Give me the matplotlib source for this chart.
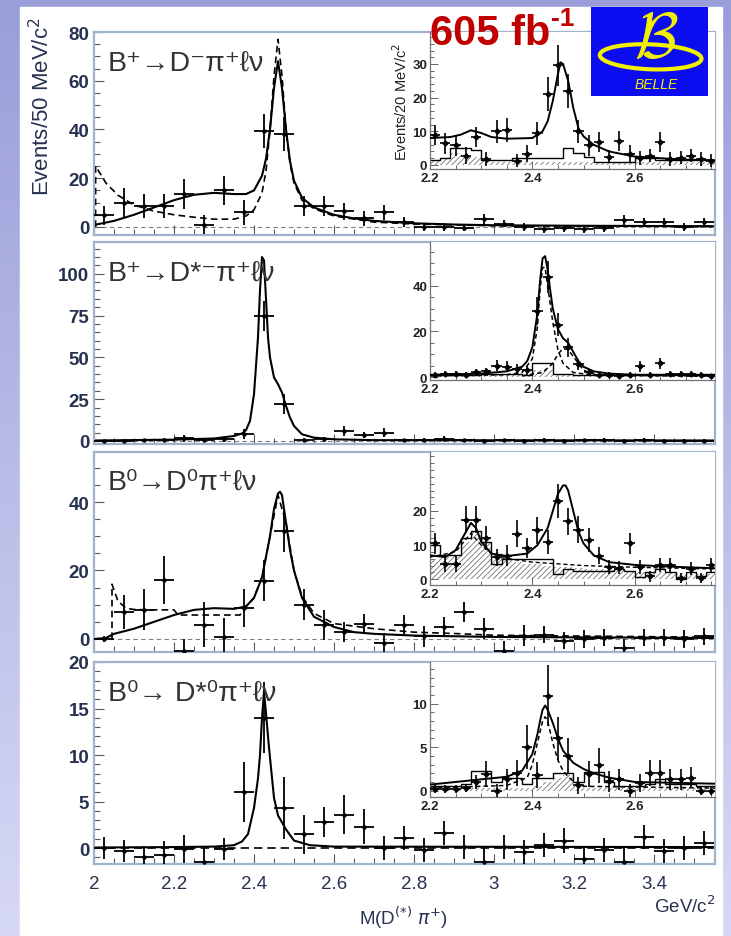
import matplotlib
matplotlib.use("Agg")
import matplotlib.pyplot as plt
import numpy as np
from matplotlib.patches import Ellipse, Rectangle
from matplotlib.ticker import MultipleLocator, FixedLocator, FuncFormatter

plt.rcParams["font.family"] = ["Liberation Sans Narrow", "Liberation Sans", "DejaVu Sans"]
plt.rcParams["mathtext.fontset"] = "custom"
plt.rcParams["mathtext.rm"] = "Liberation Sans Narrow"
plt.rcParams["mathtext.it"] = "Liberation Sans Narrow:italic"
plt.rcParams["mathtext.bf"] = "Liberation Sans Narrow:bold"
plt.rcParams["hatch.linewidth"] = 0.6

# ---------------- data ----------------
# main panels: 50 MeV/c^2 bins
MASS = [2.025, 2.075, 2.125, 2.175, 2.225, 2.275, 2.325, 2.375, 2.425, 2.475,
        2.525, 2.575, 2.625, 2.675, 2.725, 2.775, 2.825, 2.875, 2.925, 2.975,
        3.025, 3.075, 3.125, 3.175, 3.225, 3.275, 3.325, 3.375, 3.425, 3.475, 3.525]

# B+ -> D- pi+ l nu
p1_vals = [4.8, 10, 8.5, 8.5, 13.5, 1, 15, 6, 39.5, 38,
           8.5, 8.5, 6.5, 3.5, 6, 2, 0, 0, -0.3, 3.3,
           1.4, 0, -1, -0.5, -1, -0.5, 3, 2, 2, 0, 2]
p1_errs = [4, 6, 5, 5, 6, 4, 6, 5, 7, 7, 4, 4, 3.5, 3, 3, 2, 1.5, 1.5, 1.5, 2,
           1.5, 1.5, 1.5, 1.5, 1.5, 1.5, 2, 1.5, 1.5, 1.5, 1.5]
p1_fit_x = [2.00, 2.05, 2.10, 2.15, 2.20, 2.25, 2.30, 2.35, 2.38, 2.40, 2.42, 2.43, 2.44,
            2.45, 2.46, 2.47, 2.48, 2.49, 2.50, 2.52, 2.55, 2.60, 2.65, 2.70, 2.80,
            2.90, 3.00, 3.20, 3.55]
p1_fit_y = [0.8, 2.5, 5, 8, 11, 13.2, 14, 13.5, 13.5, 15, 21, 28, 40,
            57, 68, 57, 40, 27, 19, 12, 8, 5, 3.5, 2.5, 1.5,
            1, 0.7, 0.5, 0.3]
p1_bkg_x = [2.004, 2.004, 2.03, 2.06, 2.10, 2.15, 2.20, 2.25, 2.30, 2.35, 2.38, 2.40,
            2.42, 2.43, 2.44, 2.45, 2.46, 2.47, 2.48, 2.49, 2.50, 2.52, 2.55, 2.60,
            2.70, 2.80, 3.00, 3.55]
p1_bkg_y = [0, 25, 18, 13, 9, 6.5, 5, 4, 3.2, 3.2, 4.5, 7,
            14, 23, 40, 62, 77, 62, 40, 26, 18, 11, 7.5, 4.5,
            2, 1.2, 0.5, 0.2]

# B+ -> D*- pi+ l nu
p2_vals = [0, 0, 0.3, 0.5, 1.5, 0.5, 1, 4, 75, 22,
           0.5, 1, 6, 3.5, 5, 0.3, 0.5, 1.2, 0.3, 0,
           0.3, 0, 0.5, 0, 0.3, 0.5, 0.2, 0.5, 0.2, 0, 0.2]
p2_errs = [0.8, 0.8, 1, 1, 2, 1, 1.5, 3, 9, 6, 1, 1.5, 3, 2, 2.5, 1, 1, 1.5, 1, 1,
           1, 1, 1, 1, 1, 1, 1, 1, 1, 1, 1]
p2_fit_x = [2.00, 2.20, 2.30, 2.35, 2.37, 2.38, 2.39, 2.40, 2.41, 2.415, 2.42, 2.425,
            2.43, 2.435, 2.44, 2.45, 2.46, 2.47, 2.48, 2.49, 2.50, 2.52, 2.55, 2.60,
            2.70, 3.55]
p2_fit_y = [0.3, 0.8, 1.5, 3, 4.5, 6.5, 12, 28, 62, 90, 110, 108,
            85, 62, 50, 38, 34, 29, 21, 14, 9, 4, 2, 1,
            0.5, 0.3]

# B0 -> D0 pi+ l nu
p3_vals = [0, 7.8, 8.5, 17.3, -3.6, 4.2, 0.6, 9, 17, 31.5,
           10, 4.2, 2, 4.4, -1.2, 4, 0.8, 3.5, 7.9, 3,
           -3.6, 1, 1.2, -0.5, 0, 0.4, -2.6, 0.4, 0.4, 0, 0.8]
p3_errs = [1, 5, 6, 7, 3.6, 6.5, 5.5, 5.5, 6, 6, 4.6, 4.4, 3, 3, 3, 3, 3, 3, 3, 3,
           3, 3, 2.5, 2.5, 2.5, 2.5, 2.5, 2.5, 2.5, 2.5, 2.5]
p3_fit_x = [2.00, 2.03, 2.05, 2.10, 2.15, 2.20, 2.25, 2.30, 2.35, 2.38, 2.40, 2.42,
            2.44, 2.45, 2.46, 2.465, 2.47, 2.48, 2.49, 2.50, 2.52, 2.55, 2.60, 2.65,
            2.70, 2.80, 3.00, 3.55]
p3_fit_y = [0, 0.3, 1.5, 3, 5, 7, 8.5, 9, 8.8, 9.5, 12, 18,
            30, 38, 42.5, 43, 42, 34, 26, 20, 12, 6.5, 3.5, 2,
            1.5, 1, 0.6, 0.3]
p3_bkg_x = [2.045, 2.045, 2.06, 2.08, 2.10, 2.15, 2.20, 2.21, 2.25, 2.30, 2.365, 2.38,
            2.40, 2.42, 2.44, 2.46, 2.48, 2.50, 2.52, 2.55, 2.60, 2.70, 2.80, 2.90,
            3.00, 3.55]
p3_bkg_y = [0, 16, 11, 9, 8.6, 8.5, 8.5, 7, 7, 7, 7, 9.5,
            12, 18, 30, 42, 34, 20, 12.5, 7.5, 4.5, 3, 2, 1.6,
            1.1, 0.5]

# B0 -> D*0 pi+ l nu
p4_vals = [0, -0.3, -1, -0.7, -0.1, -1.55, -0.1, 6, 14, 4.3,
           1.5, 2.8, 3.6, 2.3, 0, 1.1, -0.2, 1.6, 0.1, -1.55,
           0.1, -0.4, 0.3, 0.8, -1.2, -0.2, -1.55, 1.2, -0.3, 0, 0.5]
p4_errs = [1.2, 1.2, 1.2, 1.5, 1.5, 1.5, 1.2, 3.2, 3.8, 3.3, 2.1, 1.6, 2.1, 1.9, 1.3,
           1.3, 1.3, 1.3, 1.3, 1.5, 1.3, 1.3, 1.3, 1.3, 1.3, 1.3, 1.5, 1.3, 1.3, 1.3, 1.3]
p4_fit_x = [2.00, 2.20, 2.30, 2.35, 2.37, 2.385, 2.40, 2.41, 2.415, 2.42, 2.425, 2.43,
            2.435, 2.44, 2.45, 2.46, 2.48, 2.50, 2.54, 2.60, 3.55]
p4_fit_y = [0.05, 0.1, 0.15, 0.3, 0.7, 1.5, 4.3, 7.5, 10, 14, 16.8, 14.5,
            12, 9.7, 5.4, 3.5, 2, 0.8, 0.3, 0.15, 0.1]

# insets: 20 MeV/c^2 bins
MASS_IN = [2.21, 2.23, 2.25, 2.27, 2.29, 2.31, 2.33, 2.35, 2.37, 2.39,
           2.41, 2.43, 2.45, 2.47, 2.49, 2.51, 2.53, 2.55, 2.57, 2.59,
           2.61, 2.63, 2.65, 2.67, 2.69, 2.71, 2.73, 2.75]

i1_vals = [9, 6.4, 5.8, 2.8, 8.4, 1.8, 10, 10.4, 1.3, 3.3,
           9.4, 21, 29.6, 22, 10, 5.8, 6.9, 2.5, 7, 3.3,
           2, 2.8, 6.9, 1.8, 2.2, 2.8, 1.8, 1.3]
i1_errs = [3, 3, 3, 2.5, 3, 2, 3.5, 3.5, 2, 2.5, 3.5, 5, 6, 5, 3.5, 3, 3, 2, 3, 2.5,
           2, 2, 3, 2, 2, 2, 2, 2]
i1_hist = [1.5, 2, 5, 5, 4.5, 1.5, 1.5, 1.5, 2, 2, 2, 2, 2, 5, 3.5, 2.5, 1, 1, 1, 1,
           2, 2, 1.5, 1.5, 1.5, 1.5, 1.5, 1.5]
i1_hatch = [1.5, 2, 3.5, 3, 2.5, 1.5, 1, 1, 1, 1, 1, 1, 1, 1, 1, 1, 0.8, 0.8, 0.8, 0.8,
            0.8, 0.8, 0.8, 0.8, 0.8, 0.8, 0.8, 0.8]
i1_fit_x = [2.20, 2.24, 2.26, 2.28, 2.30, 2.32, 2.35, 2.40, 2.42, 2.43, 2.44, 2.45,
            2.455, 2.46, 2.47, 2.48, 2.49, 2.50, 2.52, 2.55, 2.60, 2.65, 2.70, 2.757]
i1_fit_y = [8, 8.3, 9, 10.3, 9.5, 8.3, 7.8, 8, 10, 13, 19, 27,
            30.5, 30, 25, 17, 11, 8.5, 6, 4, 2.5, 2, 1.6, 1.4]

i2_vals = [1, 1.5, 1.5, 1, 2, 2.5, 5, 4.5, 3.5, 3,
           29, 44, 23, 13, 5.5, 2, 1, 1, 0.5, 1,
           4.7, 1, 6, 1.5, 1.5, 1.5, 1, 0.5]
i2_errs = [1, 1.2, 1.2, 1, 1.5, 1.5, 2.5, 2.5, 2, 2, 6, 7, 5, 4, 2.5, 1.5, 1, 1, 1, 1,
           2.5, 1, 2.5, 1, 1, 1, 1, 1]
i2_hist = [1, 1, 1, 1, 1, 1.5, 1.5, 1.5, 1.5, 1, 6, 6, 1.5, 1.5, 1, 1, 1, 1, 0.8, 0.8,
           0.8, 0.8, 0.8, 0.8, 0.8, 0.8, 0.8, 0.8]
i2_hatch = [0.5, 0.5, 0.5, 0.5, 0.5, 0.8, 0.8, 0.8, 0.8, 0.8, 3, 3, 0.8, 0.8, 0.5, 0.5,
            0.5, 0.5, 0.3, 0.3, 0.3, 0.3, 0.3, 0.3, 0.3, 0.3, 0.3, 0.3]
i2_fit_x = [2.20, 2.30, 2.35, 2.38, 2.39, 2.40, 2.41, 2.415, 2.42, 2.425, 2.43, 2.435,
            2.44, 2.45, 2.46, 2.47, 2.48, 2.49, 2.50, 2.52, 2.55, 2.60, 2.757]
i2_fit_y = [1, 1.5, 2.5, 4.5, 7, 13, 28, 42, 52, 53, 47, 38,
            30, 21, 17, 15, 11, 7, 4.5, 2.5, 1.5, 1, 1]
i2_pk1_x = [2.20, 2.35, 2.38, 2.40, 2.41, 2.415, 2.42, 2.425, 2.43, 2.44, 2.45, 2.46,
            2.48, 2.52, 2.757]
i2_pk1_y = [0.5, 1, 2, 8, 22, 38, 48, 48, 40, 24, 12, 6, 2, 0.8, 0.3]
i2_pk2_x = [2.38, 2.42, 2.44, 2.45, 2.46, 2.47, 2.48, 2.50, 2.53]
i2_pk2_y = [0.5, 2, 6, 10, 12.5, 12, 9, 3, 0.5]

i3_vals = [10.5, 4.5, 4.5, 17.5, 17.5, 12, 6.4, 6.9, 13.3, 9.2,
           14.3, 11, 23, 17, 14.5, 11.5, 6.9, 3.6, 3.4, 10.5,
           3.6, 0.8, 4.1, 4.1, 0.4, 3.1, 0.4, 4.1]
i3_errs = [3, 2.5, 2.5, 4, 4, 3.5, 2.5, 3, 4, 3, 4, 3.5, 5, 4, 4, 3.5, 2.5, 2, 2, 3,
           2, 1.5, 2, 2, 1.5, 2, 1.5, 2]
i3_hist = [10, 7, 7, 12, 14, 11, 4.5, 6, 6, 6, 6, 6, 1.5, 3, 2.5, 2.5, 2.5, 2.5, 3, 2.5,
           0.5, 2, 3, 2, 0, 2, 1, 2]
i3_hatch = [6, 6.5, 7, 11, 14, 12, 8, 6, 5, 4.5, 4.5, 4, 3.5, 3.5, 3.2, 3, 3, 2.8, 2.6,
            2.4, 2.2, 2, 2, 1.8, 1.8, 1.6, 1.6, 1.5]
i3_fit_x = [2.20, 2.23, 2.25, 2.265, 2.28, 2.29, 2.30, 2.32, 2.35, 2.39, 2.41, 2.43,
            2.44, 2.45, 2.46, 2.465, 2.47, 2.48, 2.49, 2.50, 2.52, 2.55, 2.60, 2.65, 2.757]
i3_fit_y = [7, 6.5, 8.5, 12.5, 16.5, 15, 11, 7.5, 6.8, 7.5, 10, 15,
            20, 25, 27.5, 27.5, 26, 20, 14, 10.5, 7, 5, 4.2, 3.8, 3.2]
i3_bkg_x = [2.20, 2.25, 2.28, 2.30, 2.33, 2.40, 2.50, 2.60, 2.757]
i3_bkg_y = [6.5, 8, 13.5, 10, 6.5, 5, 4, 3.5, 3]

i4_vals = [0.2, 0.2, 0.2, 0.3, 1, 1.9, 0, 1.3, 2, 5,
           1.8, 10.9, 6, 4, 0.6, 1.9, 2.9, 1.1, 1.3, 0,
           0.9, 2, 2, 1.3, 1.3, 1.5, 0, 0]
i4_errs = [0.5, 0.5, 0.5, 0.5, 0.8, 1.5, 0.8, 1.2, 1.5, 2.5, 1.5, 3.5, 2.5, 2, 1, 1.5,
           2, 1.2, 1.2, 0.8, 1, 1.5, 1.5, 1.2, 1.2, 1.2, 0.5, 0.5]
i4_hist = [0.5, 0.5, 0.5, 0.8, 2.3, 2.3, 1, 1.5, 1.5, 0.8, 1.5, 1.5, 2, 2, 1, 2.2, 2.2,
           1, 0.5, 0.5, 0.5, 0.8, 1.3, 0.8, 0.8, 0.8, 0.5, 0.5]
i4_hatch = [0.3, 0.3, 0.3, 0.3, 0.3, 0.3, 0.3, 0.3, 0.3, 0.3, 0.5, 1, 1.5, 1.8, 0.5,
            0.3, 0.3, 0.3, 0.3, 0.3, 0.3, 0.3, 0.3, 0.3, 0.3, 0.3, 0.3, 0.3]
i4_fit_x = [2.20, 2.30, 2.35, 2.38, 2.40, 2.41, 2.415, 2.42, 2.425, 2.43, 2.44, 2.45,
            2.46, 2.48, 2.50, 2.52, 2.55, 2.60, 2.757]
i4_fit_y = [0.7, 1.3, 1.6, 2.3, 4.2, 6.5, 8, 9.3, 9.8, 9.3, 7.8, 6,
            4.6, 3.2, 2.5, 2, 1.5, 1, 0.8]
i4_pk_x = [2.20, 2.35, 2.39, 2.40, 2.41, 2.42, 2.425, 2.43, 2.44, 2.45, 2.46, 2.47,
           2.48, 2.50, 2.757]
i4_pk_y = [0.3, 0.6, 1.5, 3, 5.5, 8, 8.5, 8, 5.5, 3.5, 2.3, 1.6, 1.1, 0.5, 0.3]

LABELS = ["B⁺→D⁻π⁺ℓν",
          "B⁺→D*⁻π⁺ℓν",
          "B⁰→D⁰π⁺ℓν",
          "B⁰→ D*⁰π⁺ℓν"]

# ---------------- drawing ----------------
W, H = 731, 937
fig = plt.figure(figsize=(W / 100, H / 100), dpi=100)

TXT = "#26324f"
FRAME = "#9fb3cb"


def box(left, top, right, bottom):
    return [left / W, 1 - bottom / H, (right - left) / W, (bottom - top) / H]


# slide background
bg = fig.add_axes([0, 0, 1, 1], zorder=-10)
grad = np.linspace([0.60, 0.62, 0.85], [0.84, 0.85, 0.96], 256)[:, None, :]
bg.imshow(grad, aspect="auto", extent=[0, 1, 0, 1])
bg.add_patch(Rectangle((20 / W, 0), 702 / W, 1 - 8 / H, color="white",
                       transform=bg.transAxes))
bg.set_xlim(0, 1)
bg.set_ylim(0, 1)
bg.axis("off")

fmt_g = FuncFormatter(lambda v, p: f"{v:g}")


def main_panel(rect, vals, errs, ylim, ymaj, ymin, label, dark_zero=False):
    ax = fig.add_axes(rect)
    ax.set_xlim(2.0, 3.5525)
    ax.set_ylim(*ylim)
    if dark_zero:
        ax.axhline(0, color="black", lw=1.2, ls=(0, (5, 3)), zorder=1)
    else:
        ax.axhline(0, color="0.5", lw=0.8, ls=(0, (4, 3)), zorder=1)
    ax.errorbar(MASS, vals, xerr=0.025, yerr=errs, fmt="o", ms=2.2, color="black",
                elinewidth=1.3, capsize=0, zorder=3)
    ax.xaxis.set_major_locator(MultipleLocator(0.2))
    ax.xaxis.set_minor_locator(MultipleLocator(0.05))
    ax.yaxis.set_major_locator(MultipleLocator(ymaj))
    ax.yaxis.set_minor_locator(MultipleLocator(ymin))
    ax.xaxis.set_major_formatter(fmt_g)
    ax.tick_params(which="both", direction="in", color="0.35", labelcolor=TXT,
                   labelsize=13.5, width=0.8)
    ax.tick_params(which="major", length=7)
    ax.tick_params(which="minor", length=4)
    ax.tick_params(axis="x", labelbottom=False)
    for t in ax.get_yticklabels() + ax.get_xticklabels():
        t.set_fontweight("bold")
    for s in ax.spines.values():
        s.set_color(FRAME)
        s.set_linewidth(1.6)
    ax.text(0.022, 0.815, label, transform=ax.transAxes, fontsize=20.5,
            color="#333333", va="baseline")
    return ax


def inset(rect, ylim, yticks, ymin, vals, errs, hist, hatch):
    ax = fig.add_axes(rect)
    ax.set_facecolor("white")
    ax.set_xlim(2.2, 2.757)
    ax.set_ylim(*ylim)
    edges = np.append(np.array(MASS_IN) - 0.01, MASS_IN[-1] + 0.01)
    ax.stairs(hatch, edges, fill=True, facecolor="none", edgecolor="0.45",
              hatch="//////", lw=0, zorder=1)
    ax.stairs(hist, edges, color="black", lw=1.0, baseline=None, zorder=2)
    ax.errorbar(MASS_IN, vals, xerr=0.01, yerr=errs, fmt="D", ms=2.6, color="black",
                elinewidth=1.2, capsize=0, zorder=4)
    ax.xaxis.set_major_locator(MultipleLocator(0.2))
    ax.xaxis.set_minor_locator(MultipleLocator(0.05))
    ax.yaxis.set_major_locator(FixedLocator(yticks))
    ax.yaxis.set_minor_locator(MultipleLocator(ymin))
    ax.xaxis.set_major_formatter(fmt_g)
    ax.tick_params(which="both", direction="in", color="0.4", labelcolor="#222222",
                   labelsize=9.5, width=0.7, pad=2)
    ax.tick_params(which="major", length=6)
    ax.tick_params(which="minor", length=3)
    for t in ax.get_yticklabels() + ax.get_xticklabels():
        t.set_fontweight("bold")
    ax.spines["top"].set_visible(False)
    ax.spines["right"].set_visible(False)
    for s in ("left", "bottom"):
        ax.spines[s].set_color("0.45")
        ax.spines[s].set_linewidth(0.9)
    return ax


ax1 = main_panel(box(94, 33, 715, 236), p1_vals, p1_errs, (-3.3, 80), 20, 5, LABELS[0])
ax1.plot(p1_fit_x, p1_fit_y, color="black", lw=1.5, zorder=2)
ax1.plot(p1_bkg_x, p1_bkg_y, color="black", lw=1.2, ls=(0, (4, 2.5)), zorder=2)

ax2 = main_panel(box(94, 243, 715, 445), p2_vals, p2_errs, (-1.8, 119), 25, 5, LABELS[1])
ax2.plot(p2_fit_x, p2_fit_y, color="black", lw=1.5, zorder=2)

ax3 = main_panel(box(94, 453, 715, 653), p3_vals, p3_errs, (-3.8, 54.6), 20, 5, LABELS[2])
ax3.plot(p3_fit_x, p3_fit_y, color="black", lw=1.5, zorder=2)
ax3.plot(p3_bkg_x, p3_bkg_y, color="black", lw=1.2, ls=(0, (4, 2.5)), zorder=2)

ax4 = main_panel(box(94, 663, 715, 865), p4_vals, p4_errs, (-1.72, 20), 5, 1, LABELS[3],
                 dark_zero=True)
ax4.plot(p4_fit_x, p4_fit_y, color="black", lw=1.5, zorder=2)
ax4.tick_params(axis="x", labelbottom=True, pad=8)

in1 = inset(box(430, 33, 715, 170), (-1.2, 39.5), [0, 10, 20, 30], 2,
            i1_vals, i1_errs, i1_hist, i1_hatch)
in1.plot(i1_fit_x, i1_fit_y, color="black", lw=1.4, zorder=3)
in1.set_ylabel("Events/20 MeV/c$^2$", fontsize=10.5, color="#222222", labelpad=2)

in2 = inset(box(430, 243, 715, 381), (-1.3, 59.2), [0, 20, 40], 5,
            i2_vals, i2_errs, i2_hist, i2_hatch)
in2.plot(i2_fit_x, i2_fit_y, color="black", lw=1.4, zorder=3)
in2.plot(i2_pk1_x, i2_pk1_y, color="black", lw=1.1, ls=(0, (3, 2)), zorder=3)
in2.plot(i2_pk2_x, i2_pk2_y, color="black", lw=1.1, ls=(0, (3, 2)), zorder=3)

in3 = inset(box(430, 453, 715, 586), (-1.7, 37.3), [0, 10, 20], 2,
            i3_vals, i3_errs, i3_hist, i3_hatch)
in3.plot(i3_fit_x, i3_fit_y, color="black", lw=1.4, zorder=3)
in3.plot(i3_bkg_x, i3_bkg_y, color="black", lw=1.0, ls=(0, (3, 2)), zorder=3)

in4 = inset(box(430, 663, 715, 798), (-0.73, 14.8), [0, 5, 10], 1,
            i4_vals, i4_errs, i4_hist, i4_hatch)
in4.plot(i4_fit_x, i4_fit_y, color="black", lw=1.4, zorder=3)
in4.plot(i4_pk_x, i4_pk_y, color="black", lw=1.1, ls=(0, (3, 2)), zorder=3)

# axis titles
fig.text(42 / W, 1 - 107 / H, "Events/50 MeV/c$^2$", rotation=90, ha="center",
         va="center", fontsize=16, color=TXT)
fig.text(404 / W, 1 - 918 / H, r"M(D$^{(*)}$ $\mathit{\pi}^{+}$)", ha="center",
         va="center", fontsize=13.5, color=TXT)
fig.text(715 / W, 1 - 906 / H, "GeV/c$^2$", ha="right", va="center",
         fontsize=13.5, color=TXT)

# luminosity tag
fig.text(430 / W, 1 - 45 / H, "605 fb", ha="left", va="baseline", fontsize=30,
         fontweight="bold", color="#c00000", zorder=20)
fig.text(551 / W, 1 - 26 / H, "-1", ha="left", va="baseline", fontsize=19,
         fontweight="bold", color="#c00000", zorder=20)

# Belle logo
lg = fig.add_axes(box(591, 8, 708, 97), zorder=20)
lg.set_facecolor("#0c0cf0")
lg.set_xticks([])
lg.set_yticks([])
for s in lg.spines.values():
    s.set_visible(False)
yel = "#f0f000"
lg.add_patch(Ellipse((0.51, 0.44), 0.87, 0.28, angle=-3, fill=False, ec=yel, lw=3,
                     transform=lg.transAxes))
lg.text(0.56, 0.63, r"$\mathcal{B}$", math_fontfamily="cm", fontsize=46, color=yel,
        ha="center", va="center", transform=lg.transAxes)
lg.text(0.56, 0.13, "BELLE", fontsize=10, style="italic", color=yel, ha="center",
        va="center", transform=lg.transAxes)

fig.savefig("out.png", dpi=100)
